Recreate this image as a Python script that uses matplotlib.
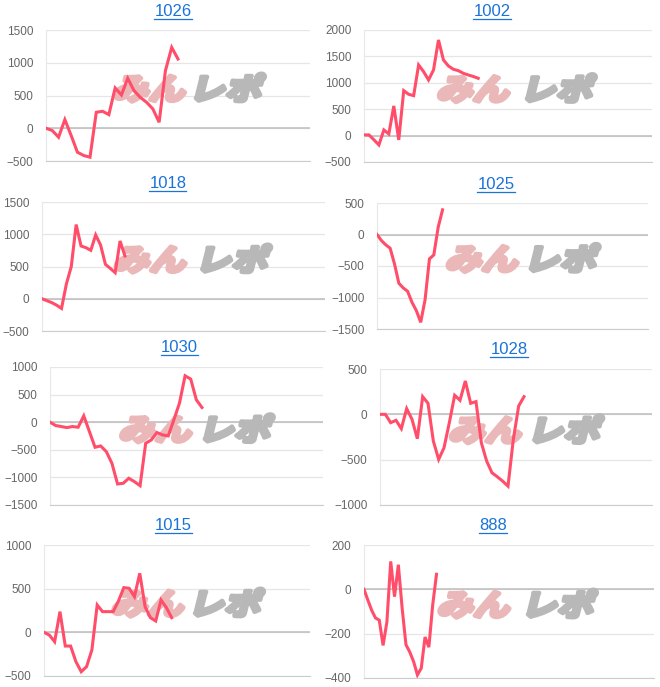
import matplotlib
matplotlib.use("Agg")
import matplotlib.pyplot as plt
import numpy as np
from matplotlib.textpath import TextPath
from matplotlib.patches import PathPatch
from matplotlib.font_manager import FontProperties
from matplotlib.transforms import Affine2D, ScaledTranslation
from matplotlib.lines import Line2D

plt.rcParams["font.family"] = ["Liberation Sans", "DejaVu Sans"]

# machine numbers (panel titles)
titles = ["1026", "1002", "1018", "1025", "1030", "1028", "1015", "888"]

# balance per data point
s1026 = [0, -35, -137, 132, -110, -366, -416, -442, 244, 259, 208, 615, 508, 762,
         574, 472, 396, 295, 91, 879, 1234, 1057]
s1002 = [13, 13, -80, -177, 107, 32, 562, -82, 852, 782, 757, 1338, 1211, 1054,
         1243, 1811, 1432, 1319, 1256, 1230, 1180, 1148, 1120, 1085]
s1018 = [0, -30, -60, -100, -150, 230, 500, 1150, 818, 792, 751, 989, 834, 533,
         470, 404, 896, 663]
s1025 = [0, -95, -164, -217, -466, -774, -848, -901, -1076, -1208, -1394, -1034,
         -387, -323, 117, 392]
s1030 = [0, -60, -79, -97, -79, -91, 115, -169, -454, -430, -532, -744, -1119,
         -1107, -1016, -1077, -1150, -381, -321, -188, -230, -248, 42, 345, 841,
         781, 405, 266]
s1028 = [0, 0, -92, -66, -158, 63, -55, -269, 195, 122, -295, -497, -369, -92,
         210, 155, 368, 122, 140, -313, -516, -645, -689, -737, -792, -276, 92, 195]
s1015 = [0, -31, -107, 237, -157, -157, -336, -451, -393, -202, 313, 237, 237,
         237, 359, 512, 504, 409, 676, 294, 168, 130, 370, 283, 168]
s888 = [0, -48, -94, -129, -139, -253, -147, 126, -33, 111, -86, -250, -283,
        -326, -386, -356, -215, -261, -71, 68]
series = [s1026, s1002, s1018, s1025, s1030, s1028, s1015, s888]

# y ticks for each panel
yticks = [
    [-500, 0, 500, 1000, 1500],
    [-500, 0, 500, 1000, 1500, 2000],
    [-500, 0, 500, 1000, 1500],
    [-1500, -1000, -500, 0, 500],
    [-1500, -1000, -500, 0, 500, 1000],
    [-1000, -500, 0, 500],
    [-500, 0, 500, 1000],
    [-400, -200, 0, 200],
]
# number of x slots each chart has room for
xslots = [42, 58, 58, 62, 48.5, 51, 50, 76]

W, H = 660, 687
fig = plt.figure(figsize=(W / 100, H / 100), dpi=100)

# axes boxes in pixels: x0, x1, y_top, y_bottom
boxes = [
    (46, 310, 30, 161),
    (364, 652, 30, 162),
    (42, 325, 202, 331),
    (377, 648, 203, 329),
    (50, 323, 367, 505),
    (380, 652, 369, 505),
    (44, 310, 545, 676),
    (364, 654, 545, 678),
]
title_pos = [(173, 12), (492, 12), (168, 184), (496, 185),
             (179, 348), (509, 350), (173, 526), (493, 526)]

LINE = "#ff4d6a"
wm_font = FontProperties(family="Noto Sans CJK JP", weight="bold")

title_texts = []
for i, vals in enumerate(series):
    x0, x1, yt, yb = boxes[i]
    ax = fig.add_axes([x0 / W, 1 - yb / H, (x1 - x0) / W, (yb - yt) / H])
    ax.plot(np.arange(len(vals)), vals, color=LINE, lw=2.2, zorder=4,
            solid_joinstyle="miter")
    ax.set_xlim(0, xslots[i])
    ax.set_ylim(yticks[i][0], yticks[i][-1])
    ax.set_yticks(yticks[i])
    ax.set_xticks([])
    ax.tick_params(axis="y", length=0, pad=9, labelsize=8.5, labelcolor="#666666")
    for sp in ["top", "right"]:
        ax.spines[sp].set_visible(False)
    ax.spines["left"].set_color("#e8e8e8")
    ax.spines["bottom"].set_color("#cccccc")
    ax.grid(axis="y", color="#e6e6e6", lw=0.9)
    ax.set_axisbelow(True)
    ax.axhline(0, color="#bdbdbd", lw=1.1, zorder=1)
    ax.patch.set_alpha(0)

    # watermark, heavy slanted letters
    for txt, col, dx in [("みん", "#eab8b8", 0.25), ("レポ", "#b8b8b8", 0.54)]:
        tp = TextPath((0, 0), txt, size=33, prop=wm_font)
        tr = (Affine2D().scale(1.1, 0.9).skew_deg(14, 0)
              + ScaledTranslation(dx, 0.47, ax.transAxes))
        ax.add_artist(PathPatch(tp, transform=tr, facecolor=col,
                                edgecolor=col, lw=3.2, joinstyle="round",
                                zorder=2))

    tx, ty = title_pos[i]
    t = fig.text(tx / W, 1 - ty / H, titles[i], ha="center", va="center",
                 fontsize=12, color="#1a73d9")
    title_texts.append(t)

fig.canvas.draw()
for t in title_texts:
    bb = t.get_window_extent()
    yline = bb.y0 + 0.5
    fig.add_artist(Line2D([bb.x0 / W, bb.x1 / W], [yline / H, yline / H],
                          color="#1a73d9", lw=0.9))

fig.savefig("out.png", dpi=100)
